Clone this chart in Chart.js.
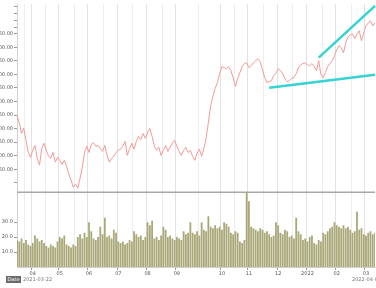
<!DOCTYPE html>
<html><head><meta charset="utf-8">
<script src="https://cdn.jsdelivr.net/npm/chart.js@4/dist/chart.umd.min.js"></script>
<style>
html,body{margin:0;padding:0;background:#fff;overflow:hidden}
#wrap{position:relative;width:376px;height:288px}
canvas{display:block}
.box{position:absolute;left:6px;top:276px;width:15px;height:7px;background:#6a6a6a;color:#fff;font:5px "DejaVu Sans";line-height:7px;text-align:center}
.t{position:absolute;top:276px;font:5px "DejaVu Sans";line-height:7px;color:#777;white-space:nowrap}
</style></head>
<body>
<div id="wrap">
<canvas id="c" width="376" height="288"></canvas>
<div class="box">Date</div>
<div class="t" style="left:23px">2021-03-22</div>
<div class="t" style="left:352px">2022-04-01</div>
</div>
<script>
const price = [3349,3323,3282,3301,3257,3212,3194,3220,3238,3190,3165,3227,3246,3220,3198,3190,3212,3176,3194,3183,
3168,3183,3161,3132,3110,3084,3095,3080,3117,3157,3212,3235,3212,3242,3249,3235,3238,3227,3216,3238,
3201,3176,3190,3198,3212,3220,3224,3235,3253,3201,3227,3246,3224,3253,3271,3260,3282,3264,3286,3301,
3271,3235,3220,3231,3201,3220,3238,3216,3231,3246,3257,3235,3216,3201,3220,3231,3212,3220,3198,3183,
3209,3224,3198,3227,3264,3323,3385,3418,3448,3470,3503,3529,3525,3521,3529,3514,3488,3455,3485,3507,
3529,3540,3543,3525,3532,3543,3551,3558,3547,3518,3488,3470,3473,3477,3496,3503,3521,3514,3503,3485,
3473,3477,3485,3488,3503,3525,3536,3540,3543,3536,3532,3540,3529,3514,3551,3499,3488,3507,3529,3540,
3551,3569,3591,3606,3598,3580,3617,3639,3646,3650,3632,3650,3661,3624,3654,3679,3690,3698,3679,3690];
const volume = [18,17,19,16,18,15,14,16,21,19,17,18,16,14,13,15,14,13,17,20,
19,21,15,14,13,15,14,20,22,19,23,20,30,24,19,18,20,27,22,33,
20,21,19,25,23,17,16,17,15,16,18,17,24,22,20,21,18,20,30,28,
31,19,20,18,21,27,25,20,21,19,18,20,19,18,24,22,23,30,23,22,
24,21,30,25,24,34,27,26,28,26,27,25,30,29,27,23,22,24,23,17,
16,18,50,44,27,26,25,24,26,25,23,24,22,20,21,30,28,23,22,25,
24,20,21,19,33,24,22,18,19,17,20,21,16,15,18,17,23,22,24,26,
27,30,28,27,26,28,26,27,25,23,24,37,25,26,22,21,23,24,22,23];
const monthStart = [7,19,32,45,58,71,91,103,116,129,142,155];
const monthLabels = ['04','05','06','07','08','09','10','11','12','2022','02','03'];
const upperTrend = [[134,3562],[159,3753]];
const lowerTrend = [[112,3451],[159,3499]];
const priceTicks = [3100,3150,3200,3250,3300,3350,3400,3450,3500,3550,3600,3650,3675,3700,3725,3750];
const volumeTicks = [10,20,30];

const labels = price.map((_, i) => String(i));
const gridIdx = new Set();
monthStart.forEach((m, k) => { gridIdx.add(m); if (k > 0) gridIdx.add(Math.round((m + monthStart[k-1]) / 2)); });
gridIdx.add(Math.round(monthStart[0] / 2));
if (monthStart.length) gridIdx.add(monthStart[monthStart.length-1] + 6);

Chart.defaults.font.family = 'DejaVu Sans';
Chart.defaults.font.size = 5;
Chart.defaults.color = '#555';

const sep = {
  id: 'sep',
  afterDatasetsDraw(c) {
    const s = c.scales.yv, a = c.chartArea, g = c.ctx;
    g.save(); g.strokeStyle = '#a8a8a8'; g.lineWidth = 1.5;
    g.beginPath(); g.moveTo(a.left, s.top); g.lineTo(a.right, s.top); g.stroke(); g.restore();
  }
};

new Chart(document.getElementById('c'), {
  data: {
    labels,
    datasets: [
      { type: 'line', data: upperTrend.map(p => ({x: String(p[0]), y: p[1]})), yAxisID: 'y', borderColor: '#35d3d3', borderWidth: 2.5, pointRadius: 0, order: 1 },
      { type: 'line', data: lowerTrend.map(p => ({x: String(p[0]), y: p[1]})), yAxisID: 'y', borderColor: '#35d3d3', borderWidth: 2.5, pointRadius: 0, order: 1 },
      { type: 'line', data: price, yAxisID: 'y', borderColor: '#f29a96', borderWidth: 1, pointRadius: 0, tension: 0, order: 2 },
      { type: 'bar', data: volume, yAxisID: 'yv', backgroundColor: '#a9a878', borderWidth: 0, barPercentage: 0.8, categoryPercentage: 1, order: 3 }
    ]
  },
  options: {
    responsive: false, animation: false, events: [],
    layout: { padding: { top: 3, bottom: 10, left: 0, right: 0 } },
    plugins: { legend: { display: false }, tooltip: { enabled: false } },
    scales: {
      x: {
        type: 'category', offset: false,
        grid: {
          color: ctx => monthStart.includes(ctx.index) ? '#e2e2e2' : (gridIdx.has(ctx.index) ? '#eeeeee' : 'rgba(0,0,0,0)'),
          tickColor: ctx => monthStart.includes(ctx.index) ? '#999' : 'rgba(0,0,0,0)',
          tickLength: 3, lineWidth: 1
        },
        border: { color: '#cfcfcf' },
        ticks: {
          autoSkip: false, maxRotation: 0, padding: 1,
          callback: (v, i) => { const k = monthStart.indexOf(i); return k >= 0 ? monthLabels[k] : ''; }
        }
      },
      yv: {
        type: 'linear', position: 'left', stack: 'p', stackWeight: 75,
        min: 0, max: 50,
        afterBuildTicks: s => { s.ticks = volumeTicks.map(v => ({value: v})); },
        afterFit: s => { s.width = 17; },
        grid: { drawOnChartArea: false, tickLength: 3, color: '#999' },
        border: { color: '#d0d0d0' },
        ticks: { padding: 1, autoSkip: false, callback: v => v.toFixed(1) }
      },
      y: {
        type: 'linear', position: 'left', stack: 'p', stackWeight: 189,
        min: 3065, max: 3760,
        afterBuildTicks: s => { s.ticks = priceTicks.map(v => ({value: v})); },
        afterFit: s => { s.width = 17; },
        grid: { drawOnChartArea: false, tickLength: 3, color: '#999' },
        border: { color: '#d0d0d0' },
        ticks: { padding: 1, autoSkip: false, callback: v => (v >= 3150 && v <= 3650) ? v.toFixed(2) : '' }
      }
    }
  },
  plugins: [sep]
});
</script>
</body></html>
